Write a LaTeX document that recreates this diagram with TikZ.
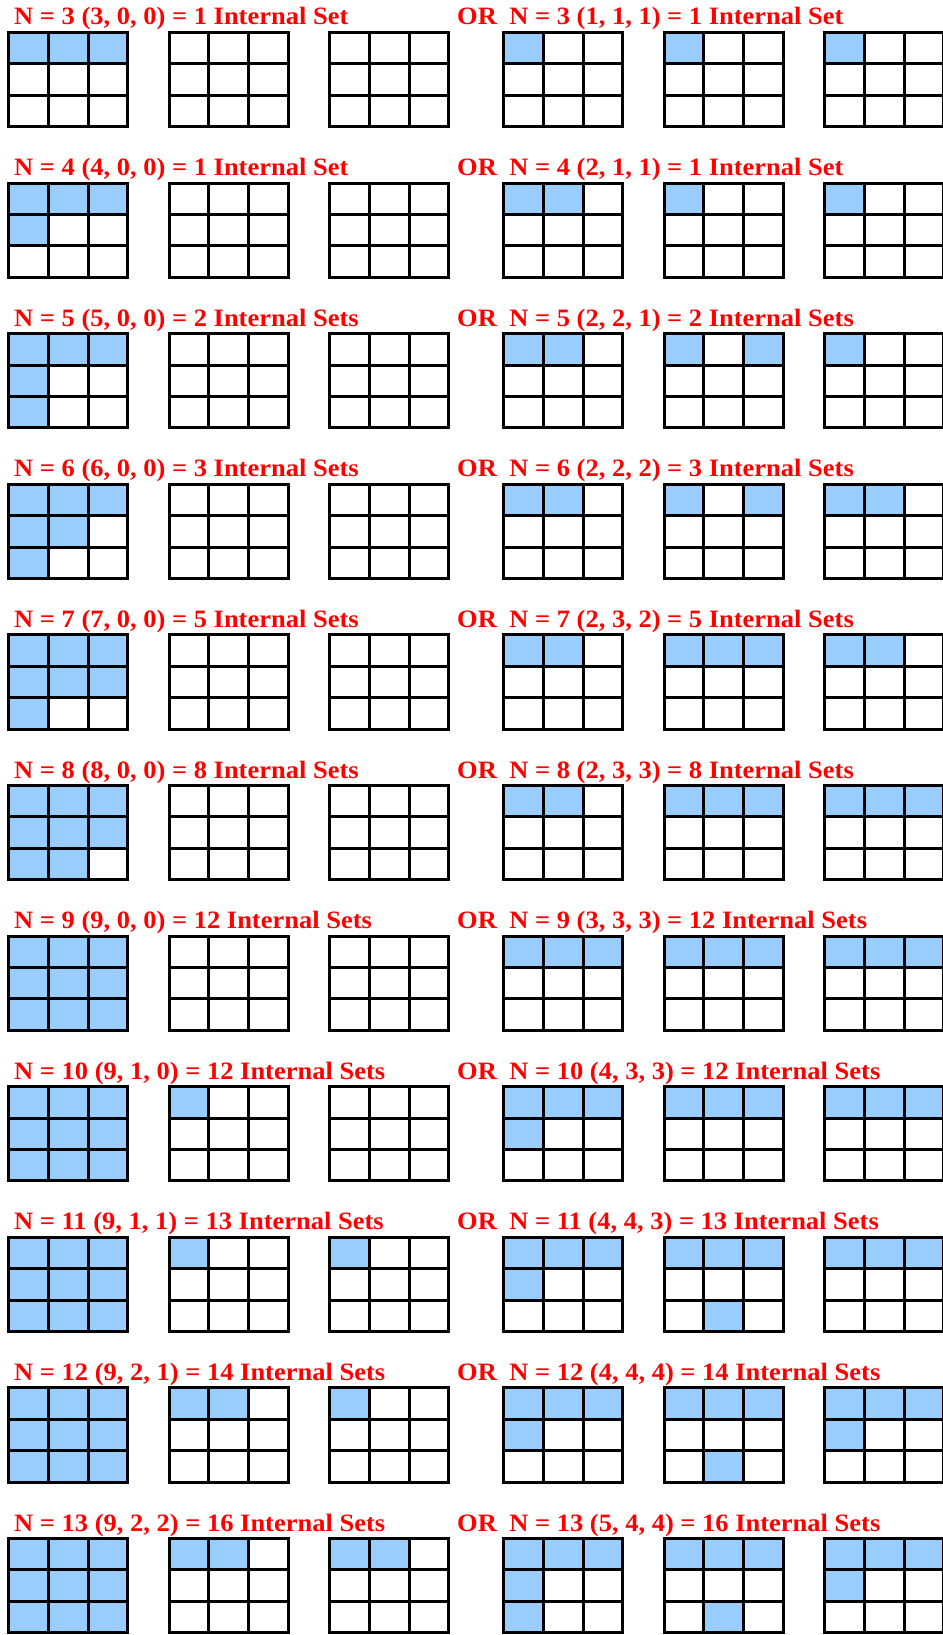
\documentclass[tikz,border=0pt]{standalone}
\usepackage{fontspec}
\setmainfont{Liberation Serif}[FakeStretch=1.06]
\usetikzlibrary{positioning}
\definecolor{setblue}{HTML}{99CCFF}
\definecolor{setred}{HTML}{FF0000}
\tikzset{
  rowlabel/.style={text=setred, font=\fontsize{25}{27}\selectfont\bfseries,
                   inner sep=0pt},
  cellfill/.style={fill=setblue},
  gridline/.style={draw=black, line width=3pt},
}
% one 3x3 board; #2 = filled cells as row/col, 0/0 for none
\newcommand{\cellgrid}[2]{%
  \begin{scope}[shift={(#1)}, x=39.6pt, y=-31.4pt]
    \foreach \ry/\cx in #2 {\ifnum\ry>0 \fill[cellfill] (\cx-1,\ry-1) rectangle (\cx,\ry);\fi}
    \draw[gridline] (0,0) rectangle (3,3) (1,0) -- (1,3) (2,0) -- (2,3)
                    (0,1) -- (3,1) (0,2) -- (3,2);
  \end{scope}}

\begin{document}
\begin{tikzpicture}[x=1pt, y=-1pt]
  \useasboundingbox (0,0) rectangle (942,1635);
  \foreach \nval/\lsplit/\rsplit/\nsets/\word/\fa/\fb/\fc/\fd/\fe/\ff [count=\row from 0] in {
    3/{3, 0, 0}/{1, 1, 1}/1/Set/{1/1,1/2,1/3}/{0/0}/{0/0}/{1/1}/{1/1}/{1/1},
    4/{4, 0, 0}/{2, 1, 1}/1/Set/{1/1,1/2,1/3,2/1}/{0/0}/{0/0}/{1/1,1/2}/{1/1}/{1/1},
    5/{5, 0, 0}/{2, 2, 1}/2/Sets/{1/1,1/2,1/3,2/1,3/1}/{0/0}/{0/0}/{1/1,1/2}/{1/1,1/3}/{1/1},
    6/{6, 0, 0}/{2, 2, 2}/3/Sets/{1/1,1/2,1/3,2/1,2/2,3/1}/{0/0}/{0/0}/{1/1,1/2}/{1/1,1/3}/{1/1,1/2},
    7/{7, 0, 0}/{2, 3, 2}/5/Sets/{1/1,1/2,1/3,2/1,2/2,2/3,3/1}/{0/0}/{0/0}/{1/1,1/2}/{1/1,1/2,1/3}/{1/1,1/2},
    8/{8, 0, 0}/{2, 3, 3}/8/Sets/{1/1,1/2,1/3,2/1,2/2,2/3,3/1,3/2}/{0/0}/{0/0}/{1/1,1/2}/{1/1,1/2,1/3}/{1/1,1/2,1/3},
    9/{9, 0, 0}/{3, 3, 3}/12/Sets/{1/1,1/2,1/3,2/1,2/2,2/3,3/1,3/2,3/3}/{0/0}/{0/0}/{1/1,1/2,1/3}/{1/1,1/2,1/3}/{1/1,1/2,1/3},
    10/{9, 1, 0}/{4, 3, 3}/12/Sets/{1/1,1/2,1/3,2/1,2/2,2/3,3/1,3/2,3/3}/{1/1}/{0/0}/{1/1,1/2,1/3,2/1}/{1/1,1/2,1/3}/{1/1,1/2,1/3},
    11/{9, 1, 1}/{4, 4, 3}/13/Sets/{1/1,1/2,1/3,2/1,2/2,2/3,3/1,3/2,3/3}/{1/1}/{1/1}/{1/1,1/2,1/3,2/1}/{1/1,1/2,1/3,3/2}/{1/1,1/2,1/3},
    12/{9, 2, 1}/{4, 4, 4}/14/Sets/{1/1,1/2,1/3,2/1,2/2,2/3,3/1,3/2,3/3}/{1/1,1/2}/{1/1}/{1/1,1/2,1/3,2/1}/{1/1,1/2,1/3,3/2}/{1/1,1/2,1/3,2/1},
    13/{9, 2, 2}/{5, 4, 4}/16/Sets/{1/1,1/2,1/3,2/1,2/2,2/3,3/1,3/2,3/3}/{1/1,1/2}/{1/1,1/2}/{1/1,1/2,1/3,2/1,3/1}/{1/1,1/2,1/3,3/2}/{1/1,1/2,1/3,2/1}%
  }{
    \pgfmathsetmacro{\ty}{32.5+150.6*\row}
    % titles
    \node[rowlabel, anchor=base west] (lt\nval) at (14,\ty-7.5) {N = \nval\ (\lsplit) = \nsets\ Internal \word};
    \node[rowlabel, anchor=base west] (or\nval) at (457,\ty-7.5) {OR};
    \node[rowlabel, base right=12pt of or\nval] (rt\nval) {N = \nval\ (\rsplit) = \nsets\ Internal \word};
    % boards
    \cellgrid{8.8,\ty}{\fa}
    \cellgrid{169.3,\ty}{\fb}
    \cellgrid{329.8,\ty}{\fc}
    \cellgrid{503.8,\ty}{\fd}
    \cellgrid{664.3,\ty}{\fe}
    \cellgrid{824.8,\ty}{\ff}
  }
\end{tikzpicture}
\end{document}
